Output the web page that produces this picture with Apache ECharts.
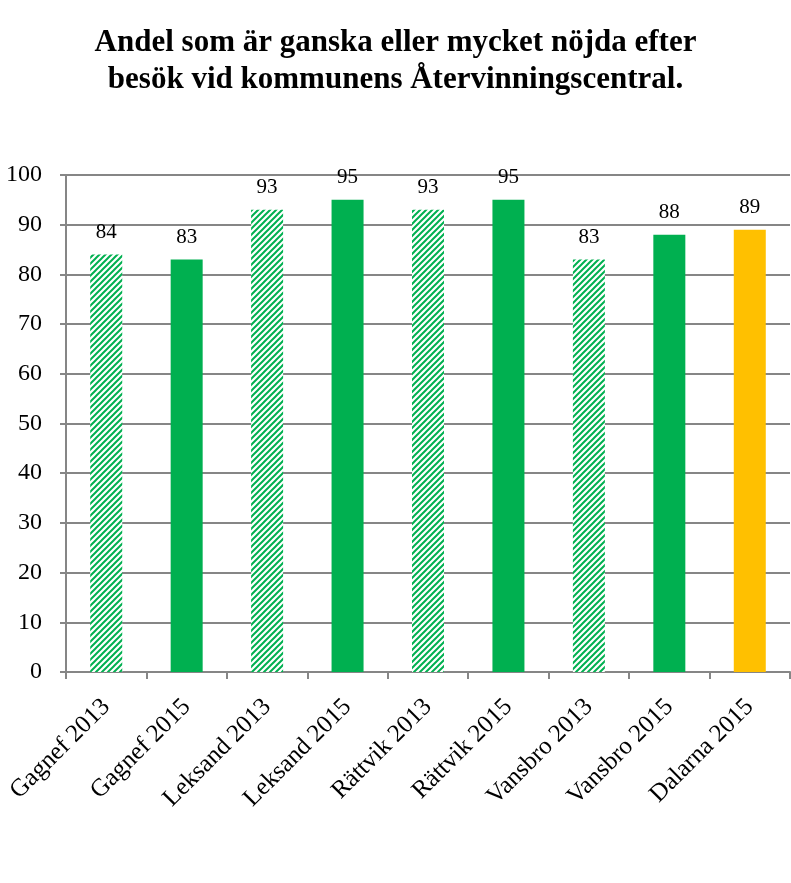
<!DOCTYPE html>
<html>
<head>
<meta charset="utf-8">
<script src="https://cdn.jsdelivr.net/npm/echarts@6/dist/echarts.min.js"></script>
<style>
  html, body { margin: 0; padding: 0; background: #fff; }
  #chart { width: 791px; height: 883px; }
</style>
</head>
<body>
<div id="chart"></div>
<script>
// data
var categories = ['Gagnef 2013', 'Gagnef 2015', 'Leksand 2013', 'Leksand 2015', 'Rättvik 2013',
  'Rättvik 2015', 'Vansbro 2013', 'Vansbro 2015', 'Dalarna 2015']
var values = [84, 83, 93, 95, 93, 95, 83, 88, 89]
var kinds = ['hatch', 'solid', 'hatch', 'solid', 'hatch', 'solid', 'hatch', 'solid', 'total']
var yTicks = [0, 10, 20, 30, 40, 50, 60, 70, 80, 90, 100]

var GREEN = '#00b050'
var YELLOW = '#ffc000'
var FONT = '"Liberation Serif", "DejaVu Serif", serif'

// diagonal stripe pattern for the 2013 bars
function makeHatch() {
  var c = document.createElement('canvas')
  c.width = 6
  c.height = 6
  var ctx = c.getContext('2d')
  ctx.fillStyle = '#fff'
  ctx.fillRect(0, 0, 6, 6)
  ctx.strokeStyle = GREEN
  ctx.lineWidth = 2
  ctx.beginPath()
  ctx.moveTo(-1, 7); ctx.lineTo(7, -1)
  ctx.moveTo(-4, 4); ctx.lineTo(4, -4)
  ctx.moveTo(2, 10); ctx.lineTo(10, 2)
  ctx.stroke()
  return c
}
var hatch = { image: makeHatch(), repeat: 'repeat' }

var barData = values.map(function (v, i) {
  var color = kinds[i] === 'hatch' ? hatch : (kinds[i] === 'total' ? YELLOW : GREEN)
  return { value: v, itemStyle: { color: color } }
})

var chart = echarts.init(document.getElementById('chart'))
chart.setOption({
  animation: false,
  title: {
    text: 'Andel som är ganska eller mycket nöjda efter\nbesök vid kommunens Återvinningscentral.',
    left: 'center',
    top: 19,
    textStyle: {
      fontFamily: FONT,
      fontWeight: 'bold',
      fontSize: 31,
      lineHeight: 37,
      color: '#000'
    }
  },
  grid: {
    left: 66,
    right: 1,
    top: 175,
    height: 497
  },
  xAxis: {
    type: 'category',
    data: categories,
    axisLine: { lineStyle: { color: '#868686', width: 2 } },
    axisTick: { show: true, length: 7, lineStyle: { color: '#868686', width: 2 } },
    axisLabel: {
      rotate: 45,
      interval: 0,
      margin: 31,
      fontFamily: FONT,
      fontSize: 25,
      color: '#000'
    }
  },
  yAxis: {
    type: 'value',
    min: 0,
    max: 100,
    interval: 10,
    axisLine: { show: true, lineStyle: { color: '#868686', width: 2 } },
    axisTick: { show: true, length: 6, lineStyle: { color: '#868686', width: 2 } },
    splitLine: { lineStyle: { color: '#868686', width: 2 } },
    axisLabel: {
      margin: 24,
      fontFamily: FONT,
      fontSize: 24,
      color: '#000',
      formatter: function (v) { return yTicks.indexOf(v) >= 0 ? String(v) : '' }
    }
  },
  series: [{
    type: 'bar',
    data: barData,
    barWidth: 32,
    label: {
      show: true,
      position: 'top',
      distance: 12,
      fontFamily: FONT,
      fontSize: 21,
      color: '#000'
    }
  }]
})
</script>
</body>
</html>
